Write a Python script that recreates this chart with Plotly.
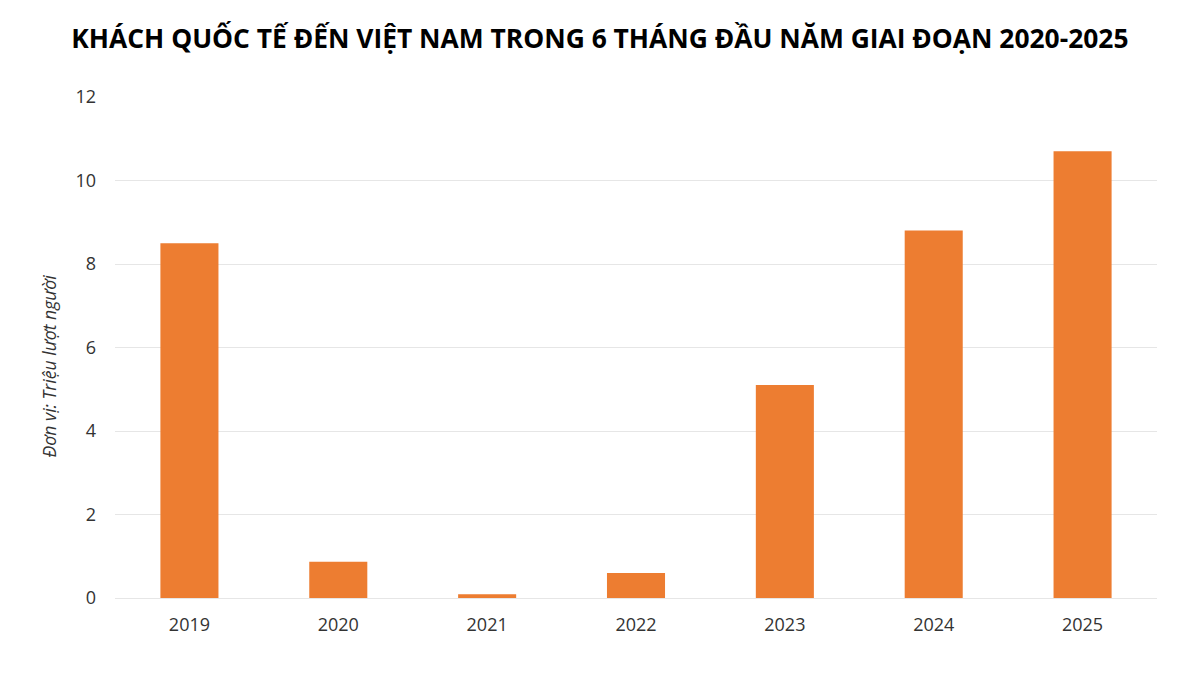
import plotly.graph_objects as go

# Khách quốc tế 6 tháng đầu năm (triệu lượt người)
years = ["2019", "2020", "2021", "2022", "2023", "2024", "2025"]
visitors = [8.5, 0.87, 0.09, 0.6, 5.1, 8.8, 10.7]
y_ticks = [0, 2, 4, 6, 8, 10, 12]

fig = go.Figure()
fig.add_trace(
    go.Bar(
        x=years,
        y=visitors,
        marker=dict(color="#ED7D31", line=dict(width=0)),
        hoverinfo="x+y",
    )
)

fig.update_layout(
    title=dict(
        text="<b>KHÁCH QUỐC TẾ ĐẾN VIỆT NAM TRONG 6 THÁNG ĐẦU NĂM GIAI ĐOẠN 2020-2025</b>",
        x=0.4933,
        xanchor="center",
        y=0.955,
        yanchor="middle",
        font=dict(family="Open Sans", size=26.4, color="#000000"),
    ),
    width=1200,
    height=675,
    margin=dict(l=107, r=51, t=89, b=85),
    paper_bgcolor="white",
    plot_bgcolor="white",
    bargap=0.61,
    showlegend=False,
    font=dict(family="Open Sans", size=18, color="#333333"),
)

# unit label sits a little below the plot's middle, so use an annotation
fig.add_annotation(
    text="<i>Đơn vị: Triệu lượt người</i>",
    xref="paper",
    yref="paper",
    x=-0.063,
    y=0.463,
    xanchor="center",
    yanchor="middle",
    textangle=-90,
    showarrow=False,
    font=dict(family="Open Sans", size=17.6, color="#333333"),
)

fig.update_xaxes(
    type="category",
    showgrid=False,
    showline=False,
    ticks="",
    ticklabelstandoff=14,
    tickfont=dict(size=18, color="#333333"),
)
fig.update_yaxes(
    range=[0, 12],
    tickvals=y_ticks,
    showgrid=True,
    gridcolor="#e6e6e6",
    gridwidth=1,
    zeroline=True,
    zerolinecolor="#e6e6e6",
    zerolinewidth=1,
    showline=False,
    ticks="",
    ticklabelstandoff=18,
    tickfont=dict(size=18, color="#333333"),
)

fig.write_html("out.html")
